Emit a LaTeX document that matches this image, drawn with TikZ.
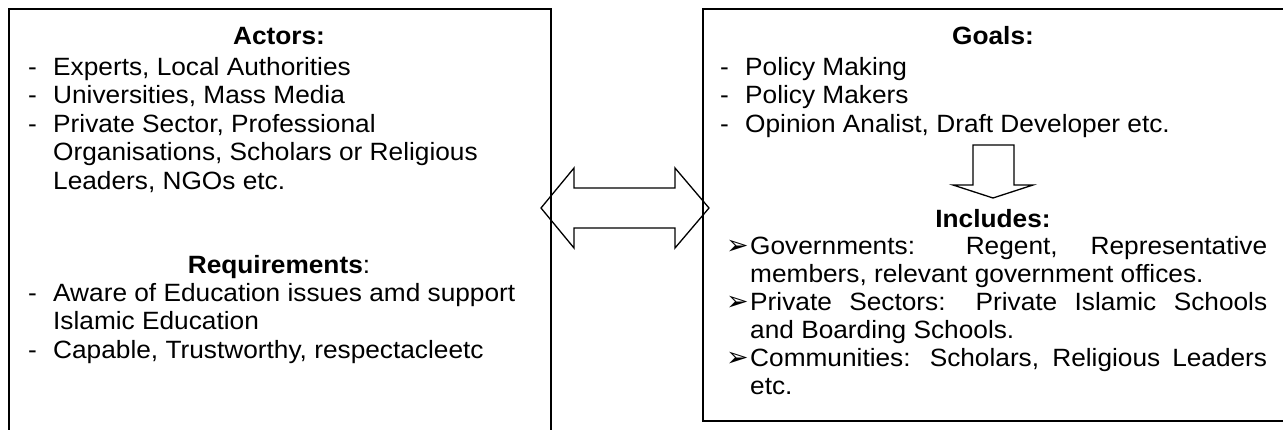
\documentclass[tikz,border=0pt]{standalone}
\usepackage{fontspec}
\setmainfont{Liberation Sans}[FakeStretch=1.05]
\newfontfamily\dejavu{DejaVu Sans}
\usetikzlibrary{positioning}

\newcommand{\bul}{{\dejavu\fontsize{27}{28}\selectfont\char"27A2}}
\newcommand{\just}[1]{\makebox[517pt][s]{#1}}

\tikzset{
  txt/.style={inner sep=0pt, text height=18pt, text depth=0pt, font=\fontsize{25}{28}\selectfont},
  head/.style={txt, anchor=center},
  item/.style={txt, anchor=west},
  frame/.style={black, line width=1.8pt},
  bigarrow/.style={black, line width=1.3pt, line join=miter},
}

\begin{document}
\begin{tikzpicture}[x=1pt, y=-1pt]
\useasboundingbox (0,0) rectangle (1283,429);
\clip (0,0) rectangle (1283,429);
% frames
\draw [frame] (9,9) rectangle (551,445);
\draw [frame] (703,9) rectangle (1295,421);
% arrows
\draw [bigarrow] (541,208) -- (574,168) -- (574,188) -- (675,188) -- (675,168) -- (709,208)
  -- (675,248) -- (675,228) -- (574,228) -- (574,248) -- cycle;
\draw [bigarrow] (973,145) -- (1014,145) -- (1014,185) -- (1033,185) -- (993,198)
  -- (953,185) -- (973,185) -- cycle;
% left box
\node [head] (actors) at (279,35) {\bfseries Actors:};
\node [item] (d1) at (28,66) {-};
\node [item] (experts) at (53,66) {Experts, Local Authorities};
\node [item] (d2) at (28,94) {-};
\node [item] (univ) at (53,94) {Universities, Mass Media};
\node [item] (d3) at (28,123) {-};
\node [item] (priv) at (53,123) {Private Sector, Professional};
\node [item] (orgs) at (53,151) {Organisations, Scholars or Religious};
\node [item] (lead) at (53,180) {Leaders, NGOs etc.};
\node [head] (req) at (279,264) {\textbf{Requirements}:};
\node [item] (d4) at (28,292) {-};
\node [item] (aware) at (53,292) {Aware of Education issues amd support};
\node [item] (islam) at (53,320) {Islamic Education};
\node [item] (d5) at (28,349) {-};
\node [item] (capable) at (53,349) {Capable, Trustworthy, respectacleetc};
% right box
\node [head] (goals) at (993,35) {\bfseries Goals:};
\node [item] (g1) at (720,66) {-};
\node [item] (making) at (745,66) {Policy Making};
\node [item] (g2) at (720,94) {-};
\node [item] (makers) at (745,94) {Policy Makers};
\node [item] (g3) at (720,123) {-};
\node [item] (opinion) at (745,123) {Opinion Analist, Draft Developer etc.};
\node [head] (incl) at (993,218) {\bfseries Includes:};
\node [item] (b1) at (726,245) {\bul};
\node [item] (gov) at (750,245) {\just{Governments: Regent, Representative}};
\node [item] (members) at (750,273) {members, relevant government offices.};
\node [item] (b2) at (726,301) {\bul};
\node [item] (psect) at (750,301) {\just{Private Sectors: Private Islamic Schools}};
\node [item] (board) at (750,329) {and Boarding Schools.};
\node [item] (b3) at (726,357) {\bul};
\node [item] (comm) at (750,357) {\just{Communities: Scholars, Religious Leaders}};
\node [item] (etc) at (750,385) {etc.};
\end{tikzpicture}
\end{document}
